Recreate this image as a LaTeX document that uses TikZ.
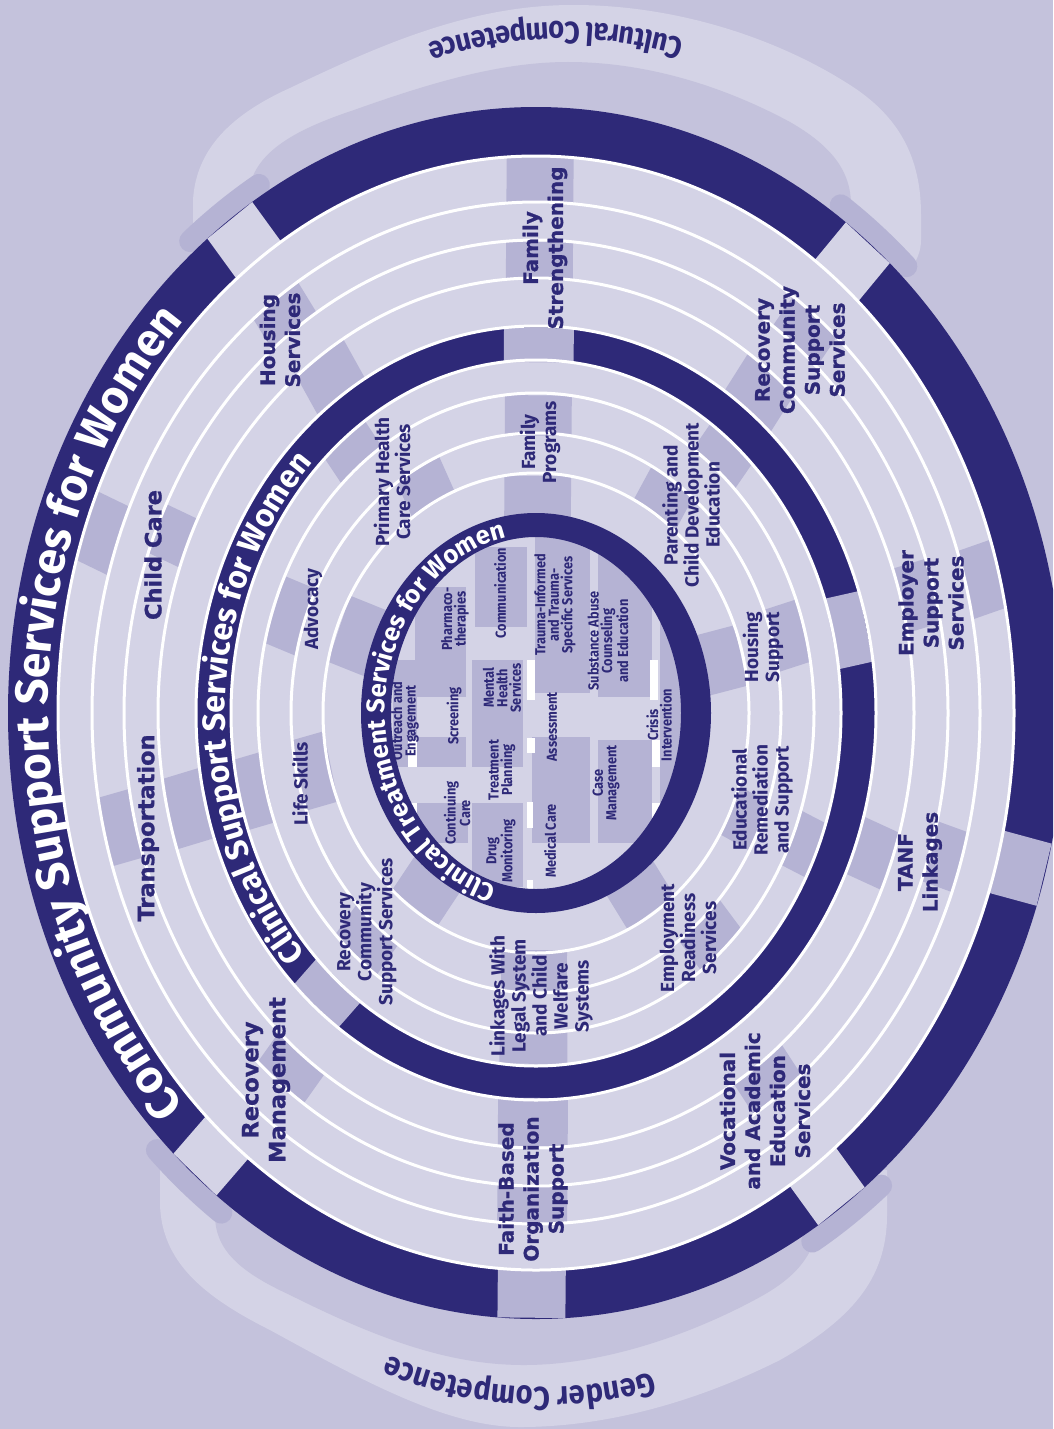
\documentclass[tikz,border=0pt]{standalone}
\usepackage{fontspec}
\usetikzlibrary{decorations.text}
\newfontfamily\fira{Fira Sans}[BoldFont={Fira Sans Bold}]
\newfontfamily\firacond{Fira Sans}[BoldFont={Fira Sans Bold}, FakeStretch=0.88]
\newfontfamily\dejavub{DejaVu Sans Bold}[FakeBold=1]
\definecolor{bgc}{HTML}{C4C2DC}
\definecolor{lightc}{HTML}{D4D3E6}
\definecolor{spokec}{HTML}{B5B3D4}
\definecolor{navy}{HTML}{2E2978}
\newcommand\bandA{\fira\bfseries\fontsize{46}{50}\selectfont}
\newcommand\bandB{\fira\bfseries\fontsize{32}{36}\selectfont}
\newcommand\bandC{\fira\bfseries\fontsize{25.5}{28}\selectfont}
\newcommand\archfont{\firacond\bfseries\fontsize{31}{34}\selectfont}
\newcommand\gendfont{\firacond\bfseries\fontsize{33}{36}\selectfont}
% lanes: aout bout ain bin
\def\lBa{{528}{606}{478}{557}}
\def\lOa{{478}{557}{444}{511}}
\def\lOb{{444}{511}{412}{473}}
\def\lOc{{412}{473}{378}{435}}
\def\lOd{{378}{435}{340}{387}}
\def\lBb{{340}{387}{305}{353}}
\def\lMa{{305}{353}{278}{320}}
\def\lMb{{278}{320}{245}{280}}
\def\lMc{{245}{280}{213}{240}}
\def\lMd{{213}{240}{175}{200}}
\newcommand\spkr[7]{%
 \pgfmathsetmacro\rrO{100*sqrt((#1*sin(#5)/100)^2+(#2*cos(#5)/100)^2)}%
 \pgfmathsetmacro\rrI{100*sqrt((#3*sin(#5)/100)^2+(#4*cos(#5)/100)^2)}%
 \pgfmathsetmacro\dOut{deg(#6/2/\rrO)}%
 \pgfmathsetmacro\dInn{deg(#6/2/\rrI)}%
 \fill[#7] ({536+#1*cos(#5-\dOut)},{713+#2*sin(#5-\dOut)}) -- ({536+#1*cos(#5+\dOut)},{713+#2*sin(#5+\dOut)}) -- ({536+#3*cos(#5+\dInn)},{713+#4*sin(#5+\dInn)}) -- ({536+#3*cos(#5-\dInn)},{713+#4*sin(#5-\dInn)}) -- cycle;}
\newcommand\pc[4]{\expandafter\spkr#1{#2}{#3}{#4}}
\newcommand\bump[1]{\draw[spokec, line width=22pt, line cap=round] ({536+538*cos(#1-4.5)},{713+616*sin(#1-4.5)}) arc[start angle=#1-4.5, end angle=#1+4.5, x radius=538, y radius=616];}
\tikzset{
 outerlab/.style={font=\dejavub\fontsize{20}{25}\selectfont, text=navy, align=center, inner sep=0pt, rotate=90},
 outerbig/.style={outerlab, font=\dejavub\fontsize{22.5}{27}\selectfont},
 midlab/.style={font=\fira\bfseries\fontsize{19}{21}\selectfont, text=navy, align=center, inner sep=0pt, rotate=90},
 gridlab/.style={font=\firacond\bfseries\fontsize{14.5}{13.5}\selectfont, text=navy, align=center, inner sep=0pt, rotate=90},
 wline/.style={white, line width=3pt}
}
\begin{document}
\begin{tikzpicture}[x=1pt,y=-1pt]
\useasboundingbox (0,0) rectangle (1053,1429);
\clip (0,0) rectangle (1053,1429);
\fill[bgc] (0,0) rectangle (1053,1429);
% ---- Cultural competence arch
\fill[lightc] (193,250) -- (193,200) .. controls (196,150) and (230,115) .. (290,88) .. controls (380,45) and (470,5) .. (573,5) .. controls (680,5) and (780,40) .. (850,85) .. controls (905,120) and (921,165) .. (921,215) -- (921,240) .. controls (921,262) and (905,280) .. (880,285) -- cycle;
\fill[bgc] (249,262) -- (249,190) .. controls (255,150) and (300,128) .. (354,110) .. controls (430,83) and (500,62) .. (568,62) .. controls (660,62) and (740,95) .. (790,122) .. controls (830,145) and (851,170) .. (851,205) -- (851,285) -- cycle;
% ---- Gender competence arch
\fill[lightc] (160,1150) -- (160,1205) .. controls (162,1260) and (200,1295) .. (270,1330) .. controls (370,1385) and (450,1427) .. (520,1427) .. controls (610,1427) and (700,1400) .. (780,1360) .. controls (850,1320) and (887,1280) .. (887,1215) -- (887,1170) -- cycle;
\fill[bgc] (215,1150) -- (215,1215) .. controls (215,1250) and (240,1272) .. (290,1295) .. controls (380,1340) and (450,1365) .. (524,1365) .. controls (610,1365) and (700,1330) .. (760,1297) .. controls (800,1275) and (818,1250) .. (818,1215) -- (818,1150) -- cycle;
% ---- bumps
\bump{234.5}
\bump{309}
\bump{130.3}
\bump{54.6}
% ---- outer band and ring field
\fill[navy] (536,713) ellipse [x radius=528, y radius=606];
\fill[lightc] (536,713) ellipse [x radius=478, y radius=557];
\pc\lBa{234.5}{58}{lightc}
\pc\lBa{309}{60}{lightc}
\pc\lBa{130.3}{60}{lightc}
\pc\lBa{54.6}{60}{lightc}
\pc\lBa{90.5}{68}{spokec}
\pc\lBa{15.5}{64}{spokec}
% ---- middle band
\fill[navy, even odd rule] (536,713) ellipse [x radius=340, y radius=387] (536,713) ellipse [x radius=305, y radius=353];
\pc\lBb{270.5}{70}{spokec}
\pc\lBb{347}{72}{spokec}
\pc\lBb{130.5}{62}{spokec}
% ---- spokes
\pc\lOa{270.5}{67}{spokec}
\pc\lOc{270.5}{67}{spokec}
\pc\lMb{270.5}{67}{spokec}
\pc\lMd{270.5}{67}{spokec}
\pc\lOb{234}{58}{spokec}
\pc\lOd{235}{60}{spokec}
\pc\lMa{231}{55}{spokec}
\pc\lMc{241}{50}{spokec}
\pc\lOb{309}{60}{spokec}
\pc\lOd{308.6}{62}{spokec}
\pc\lMa{310}{58}{spokec}
\pc\lMc{304}{52}{spokec}
\pc\lOa{345.5}{70}{spokec}
\pc\lOc{345}{66}{spokec}
\pc\lMb{345}{64}{spokec}
\pc\lMd{346}{62}{spokec}
\pc\lOb{17}{62}{spokec}
\pc\lOd{20}{60}{spokec}
\pc\lMa{23}{58}{spokec}
\pc\lMc{24}{52}{spokec}
\pc\lOc{54}{62}{spokec}
\pc\lMb{48}{58}{spokec}
\pc\lMd{57}{58}{spokec}
\pc\lOb{90.5}{70}{spokec}
\pc\lOd{90.5}{70}{spokec}
\pc\lMa{90.5}{68}{spokec}
\pc\lMc{90.5}{66}{spokec}
\pc\lOc{128.4}{62}{spokec}
\pc\lMb{130.6}{58}{spokec}
\pc\lMd{125}{58}{spokec}
\pc\lOb{166.5}{70}{spokec}
\pc\lOd{166.5}{72}{spokec}
\pc\lMa{166.5}{72}{spokec}
\pc\lMc{167}{72}{spokec}
\pc\lOa{199.7}{72}{spokec}
\pc\lOc{203}{52}{spokec}
\pc\lMb{199}{70}{spokec}
\pc\lMd{200.8}{70}{spokec}
% ---- white lines
\foreach \ra/\rb in {478/557, 444/511, 412/473, 378/435, 340/387, 305/353, 278/320, 245/280, 213/240}
  \draw[wline] (536,713) ellipse [x radius=\ra, y radius=\rb];
% ---- inner grid
\begin{scope}
\clip (536,713) ellipse [x radius=146, y radius=177];
\fill[lightc] (380,530) rectangle (700,900);
\fill[spokec] (393,660) rectangle (417,767);
\fill[spokec] (415,587) rectangle (466,697);
\fill[spokec] (415,737) rectangle (466,767);
\fill[spokec] (417,803) rectangle (468,843);
\fill[spokec] (475,547) rectangle (527,627);
\fill[spokec] (472,660) rectangle (523,767);
\fill[spokec] (472,803) rectangle (523,887);
\fill[spokec] (535,533) rectangle (590,693);
\fill[spokec] (532,737) rectangle (590,843);
\fill[spokec] (598,553) rectangle (652,697);
\fill[spokec] (598,740) rectangle (652,843);
\fill[spokec] (660,620) rectangle (683,833);
\fill[white] (527,660) rectangle (535,700);
\fill[white] (527,738) rectangle (535,753);
\fill[white] (527,802) rectangle (533,828);
\fill[white] (527,880) rectangle (533,893);
\fill[white] (650,660) rectangle (658,700);
\fill[white] (652,740) rectangle (660,767);
\fill[white] (652,803) rectangle (660,830);
\fill[white] (408,740) rectangle (417,767);
\fill[white] (410,803) rectangle (417,833);
\end{scope}
\fill[navy, even odd rule] (536,713) ellipse [x radius=175, y radius=200] (536,713) ellipse [x radius=145, y radius=176];
% ---- band texts
\path[decorate, decoration={text along path, text={|\bandA|Community Support Services for Women}, text align=center, text color=white}]
  ({536+488*cos(130)},{713+566*sin(130)}) arc [start angle=130, end angle=230, x radius=488, y radius=566];
\path[decorate, decoration={text along path, text={|\bandB|Clinical Support Services for Women}, text align=center, text color=white}]
  ({536+311*cos(131)},{713+359*sin(131)}) arc [start angle=131, end angle=231, x radius=311, y radius=359];
\path[decorate, decoration={text along path, text={|\bandC|Clinical Treatment Services for Women}, text align=center, text color=white}]
  ({536+151*cos(100)},{713+179*sin(100)}) arc [start angle=100, end angle=264, x radius=151, y radius=179];
\path[decorate, decoration={text along path, text={|\archfont|Cultural Competence}, text align=center, text color=navy}]
  ({563+430*cos(294)},{452+430*sin(294)}) arc [start angle=294, end angle=244, radius=430];
\path[decorate, decoration={text along path, text={|\gendfont|Gender Competence}, text align=center, text color=navy}]
  ({545+410*cos(68.6)},{977+410*sin(68.6)}) arc [start angle=68.6, end angle=118.6, radius=410];
% ---- outer ring labels
\node[outerlab] (famstr) at (545,248) {Family\\Strengthening};
\node[outerlab] (housserv) at (280,340) {Housing\\Services};
\node[outerbig] (childcare) at (153,555) {Child Care};
\node[outerbig] (transp) at (148,828) {Transportation};
\node[outerbig] (recmgmt) at (266,1080) {Recovery\\Management};
\node[outerlab] (faith) at (533,1189) {Faith-Based\\Organization\\Support};
\node[outerlab] (vocat) at (765,1111) {Vocational\\and Academic\\Education\\Services};
\node[outerlab] (tanf) at (920,862) {TANF\\Linkages};
\node[outerlab] (employer) at (931,603) {Employer\\Support\\Services};
\node[outerlab] (reccss) at (800,350) {Recovery\\Community\\Support\\Services};
% ---- middle ring labels
\node[midlab] (famprog) at (540,442) {Family\\Programs};
\node[midlab] (primary) at (392,482) {Primary Health\\Care Services};
\node[midlab] (advocacy) at (313,609) {Advocacy};
\node[midlab] (lifeskills) at (300,784) {Life Skills};
\node[midlab] (reccssb) at (367,932) {Recovery\\Community\\Support Services};
\node[midlab] (linkages) at (541,996) {Linkages With\\Legal System\\and Child\\Welfare\\Systems};
\node[midlab] (employment) at (688,938) {Employment\\Readiness\\Services};
\node[midlab] (educ) at (762,800) {Educational\\Remediation\\and Support};
\node[midlab] (housupp) at (763,647) {Housing\\Support};
\node[midlab] (parenting) at (691,505) {Parenting and\\Child Development\\Education};
% ---- grid labels
\node[gridlab] (outreach) at (405,721) {Outreach and\\Engagement};
\node[gridlab] (screening) at (454,716) {Screening};
\node[gridlab] (pharma) at (455,619) {Pharmaco-\\therapies};
\node[gridlab] (commun) at (500,593) {Communication};
\node[gridlab] (mental) at (502,688) {Mental\\Health\\Services};
\node[gridlab] (treatplan) at (502,770) {Treatment\\Planning};
\node[gridlab] (contcare) at (457,813) {Continuing\\Care};
\node[gridlab] (drugmon) at (501,851) {Drug\\Monitoring};
\node[gridlab] (assess) at (552,727) {Assessment};
\node[gridlab] (medcare) at (550,841) {Medical Care};
\node[gridlab] (trauma) at (555,605) {Trauma-Informed\\and Trauma-\\Specific Services};
\node[gridlab] (substance) at (608,641) {Substance Abuse\\Counseling\\and Education};
\node[gridlab] (casemgmt) at (606,783) {Case\\Management};
\node[gridlab] (crisis) at (659,725) {Crisis\\Intervention};
\end{tikzpicture}
\end{document}
